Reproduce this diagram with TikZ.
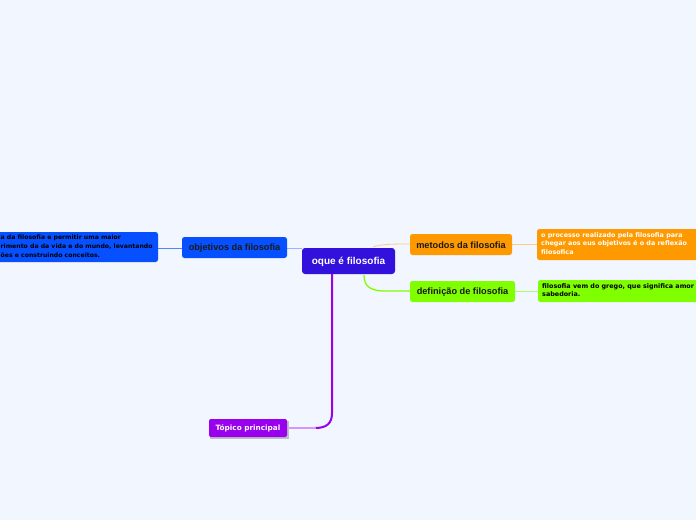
\documentclass[tikz,border=0pt]{standalone}
\usepackage{fontspec}
\setmainfont{Liberation Sans}
\newfontfamily\widefont{DejaVu Sans}
\definecolor{bg}{RGB}{242,246,254}
\definecolor{cmain}{RGB}{51,17,221}
\definecolor{cblue}{RGB}{6,80,255}
\definecolor{corange}{RGB}{255,153,0}
\definecolor{cgreen}{RGB}{128,255,0}
\definecolor{cpurple}{RGB}{153,0,238}
\definecolor{lblue}{RGB}{150,180,255}
\definecolor{lorange}{RGB}{255,200,140}
\definecolor{lgreen}{RGB}{170,255,100}
\definecolor{lpurple}{RGB}{215,150,255}
\tikzset{
  lbl/.style={font=\bfseries\fontsize{9.2}{11}\selectfont, text=black!90, anchor=center, inner sep=0pt},
  small/.style={font=\widefont\bfseries\fontsize{6.4}{8.6}\selectfont, align=left, anchor=north west, inner sep=0pt},
}
\begin{document}
\begin{tikzpicture}[x=1pt,y=-1pt]
\useasboundingbox (0,0) rectangle (696,520);
\fill[bg] (0,0) rectangle (696,520);
\begin{scope}
\clip (0,0) rectangle (696,520);
% connectors
\draw[lblue, line width=1pt] (287,248) -- (302,248);
\draw[cblue!70, line width=1pt] (158,248) -- (182,248);
\draw[lorange, line width=0.8pt] (373,247) .. controls (380,244) and (395,244) .. (410,244);
\draw[lorange, line width=0.8pt] (512,244) -- (537,244);
\draw[cgreen, line width=1.3pt] (364,275) .. controls (364,286) and (370,291) .. (385,291) -- (410,291);
\draw[lgreen, line width=0.8pt] (515,291) -- (538,291);
\draw[cpurple, line width=2pt] (332,274) -- (332,413) .. controls (332,424) and (326,428) .. (315,428);
\draw[lpurple, line width=1.2pt] (316,428) -- (287,428);
% nodes
\fill[cmain, rounded corners=3pt] (302,248) rectangle (395,274);
\node[lbl, text=white, font=\bfseries\fontsize{10}{12}\selectfont] (main) at (348.5,261.5) {oque é filosofia};
\fill[cblue, rounded corners=2.5pt] (182,237) rectangle (287,258);
\node[lbl] (obj) at (234.5,248) {objetivos da filosofia};
\fill[cblue, rounded corners=2.5pt] (-10,232) rectangle (158,262);
\node[small, text=black, font=\widefont\bfseries\fontsize{6.15}{8.6}\selectfont] (objt) at (0.5,235) {a da filosofia e permitir uma maior\\rimento da da vida e do mundo, levantando\\ões e construindo conceitos.};
\fill[corange, rounded corners=2.5pt] (410,234) rectangle (512,255);
\node[lbl] (met) at (461,245) {metodos da filosofia};
\fill[corange, rounded corners=2.5pt] (537,229) rectangle (710,260);
\node[small, text=white] (mett) at (541,232) {o processo realizado pela filosofia para\\chegar aos eus objetivos é o da reflexão\\filosofica};
\fill[cgreen, rounded corners=2.5pt] (410,281) rectangle (515,302);
\node[lbl] (def) at (462.5,292) {definição de filosofia};
\fill[cgreen, rounded corners=2.5pt] (538,280) rectangle (710,302);
\node[small, text=black] (deft) at (542,283) {filosofia vem do grego, que significa amor\\sabedoria.};
\fill[black!25] (210,420.5) rectangle (288.5,438.5);
\fill[cpurple, rounded corners=2pt] (209,419) rectangle (287,437);
\node[lbl, text=white, font=\widefont\bfseries\fontsize{7.3}{9}\selectfont] (top) at (248,428.3) {Tópico principal};
\end{scope}
\end{tikzpicture}
\end{document}
